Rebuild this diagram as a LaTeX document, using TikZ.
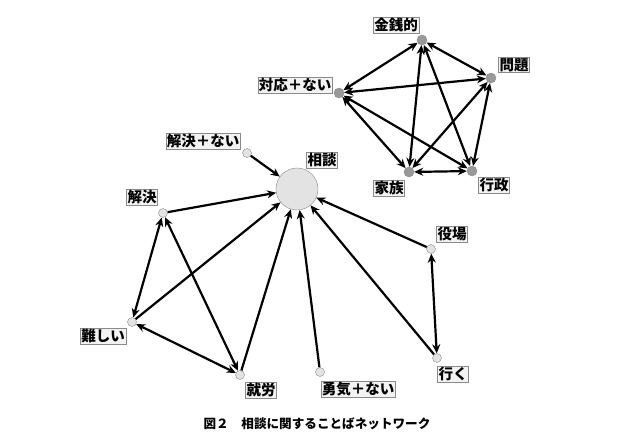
\documentclass[tikz,border=0pt]{standalone}
\usepackage{fontspec}
\setmainfont{Noto Sans CJK JP}
\usetikzlibrary{arrows.meta}
\definecolor{rim}{HTML}{8A8A8A}
\definecolor{wordfill}{HTML}{E3E3E3}
\definecolor{corefill}{HTML}{999999}
\definecolor{tagfill}{HTML}{F3F3F3}

\begin{document}
\begin{tikzpicture}[x=1pt,y=-1pt,>={Stealth[length=9pt,width=8pt]},
  word/.style={circle,draw=rim,fill=wordfill,inner sep=0pt,minimum size=9pt},
  hub/.style={word,minimum size=42pt},
  core/.style={word,fill=corefill,minimum size=10pt},
  tag/.style={draw=rim,fill=tagfill,inner sep=1pt,font=\fontsize{14.5}{15}\selectfont\bfseries},
  link/.style={line width=2.2pt}]
  \useasboundingbox (0,0) rectangle (639,434);

  \node[hub]  (sodan)   at (297,189) {};
  \node[word] (kketnai) at (247,153) {};
  \node[word] (kketsu)  at (163,213) {};
  \node[word] (muzu)    at (132,322) {};
  \node[word] (shuro)   at (240,375) {};
  \node[word] (yuki)    at (320,372) {};
  \node[word] (yakuba)  at (431,249) {};
  \node[word] (iku)     at (437,358) {};

  \node[core] (kinsen)  at (422,40) {};
  \node[core] (mondai)  at (491,78) {};
  \node[core] (taiou)   at (339,93) {};
  \node[core] (kazoku)  at (409,172) {};
  \node[core] (gyosei)  at (472,171) {};

  \node[tag] (t-sodan)   at (322,160) {相談};
  \node[tag] (t-kketnai) at (203,141) {解決＋ない};
  \node[tag] (t-kketsu)  at (142,197) {解決};
  \node[tag] (t-muzu)    at (103,336) {難しい};
  \node[tag] (t-shuro)   at (261,390) {就労};
  \node[tag] (t-yuki)    at (358,389) {勇気＋ない};
  \node[tag] (t-yakuba)  at (452,234) {役場};
  \node[tag] (t-iku)     at (453,374) {行く};
  \node[tag] (t-kinsen)  at (396,25)  {金銭的};
  \node[tag] (t-mondai)  at (514,65)  {問題};
  \node[tag] (t-taiou)   at (295,85)  {対応＋ない};
  \node[tag] (t-kazoku)  at (389,188) {家族};
  \node[tag] (t-gyosei)  at (494,185) {行政};

  \foreach \a in {kketnai,kketsu,muzu,shuro,yuki,iku,yakuba}
    \draw[link,->] (\a) -- (sodan);
  \foreach \a/\b in {kketsu/muzu,kketsu/shuro,muzu/shuro,yakuba/iku}
    \draw[link,<->] (\a) -- (\b);

  \foreach \a/\b in {kinsen/mondai,kinsen/taiou,kinsen/kazoku,kinsen/gyosei,
    mondai/taiou,mondai/kazoku,mondai/gyosei,taiou/kazoku,taiou/gyosei,kazoku/gyosei}
    \draw[link,<->] (\a) -- (\b);

  \node[font=\fontsize{12.6}{13}\selectfont\bfseries] (caption) at (317,424)
    {図２\quad 相談に関することばネットワーク};
\end{tikzpicture}
\end{document}
